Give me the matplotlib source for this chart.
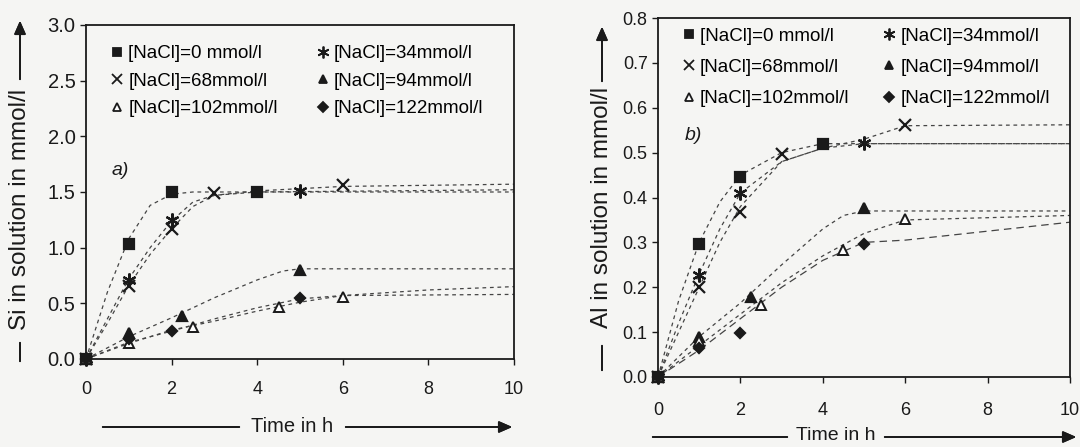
import matplotlib.pyplot as plt
from matplotlib.lines import Line2D

plt.rcParams['font.family'] = ['Liberation Sans', 'DejaVu Sans']

labels = ['[NaCl]=0 mmol/l', '[NaCl]=34mmol/l', '[NaCl]=68mmol/l',
          '[NaCl]=94mmol/l', '[NaCl]=102mmol/l', '[NaCl]=122mmol/l']
markers = ['s', (6, 2, 0), 'x', '^', '^', 'D']
filled = [True, True, True, True, False, True]
msizes = [6.5, 10, 8, 7.5, 7.5, 5.5]

# Si measurements (panel a)
si_t = [[0, 1, 2, 4],
        [0, 1, 2, 5],
        [0, 1, 2, 3, 6],
        [0, 1, 2.25, 5],
        [0, 1, 2.5, 4.5, 6],
        [0, 1, 2, 5]]
si_c = [[0, 1.03, 1.50, 1.50],
        [0, 0.71, 1.25, 1.51],
        [0, 0.66, 1.17, 1.49, 1.56],
        [0, 0.23, 0.39, 0.80],
        [0, 0.14, 0.29, 0.47, 0.56],
        [0, 0.18, 0.25, 0.55]]

# Si fitted curves
si_fit_t = [[0, 0.5, 1, 1.5, 2, 2.5, 3, 10],
            [0, 0.5, 1, 1.5, 2, 2.5, 3, 4, 10],
            [0, 0.5, 1, 1.5, 2, 2.5, 3, 4, 6, 10],
            [0, 1, 2, 3, 4, 4.6, 5, 10],
            [0, 1, 2, 3, 4, 5, 6, 8, 10],
            [0, 1, 2, 3, 4, 5, 6, 10]]
si_fit_c = [[0, 0.60, 1.08, 1.38, 1.48, 1.50, 1.50, 1.50],
            [0, 0.36, 0.72, 1.00, 1.24, 1.41, 1.47, 1.50, 1.52],
            [0, 0.32, 0.66, 0.94, 1.17, 1.37, 1.47, 1.51, 1.55, 1.57],
            [0, 0.20, 0.37, 0.55, 0.71, 0.79, 0.81, 0.81],
            [0, 0.14, 0.26, 0.34, 0.43, 0.51, 0.57, 0.62, 0.65],
            [0, 0.15, 0.25, 0.36, 0.46, 0.54, 0.57, 0.58]]

# Al measurements (panel b)
al_t = [[0, 1, 2, 4],
        [0, 1, 2, 5],
        [0, 1, 2, 3, 6],
        [0, 1, 2.25, 5],
        [0, 1, 2.5, 4.5, 6],
        [0, 1, 2, 5]]
al_c = [[0, 0.297, 0.446, 0.52],
        [0, 0.227, 0.41, 0.522],
        [0, 0.20, 0.368, 0.497, 0.562],
        [0, 0.09, 0.178, 0.377],
        [0, 0.08, 0.16, 0.283, 0.352],
        [0, 0.065, 0.097, 0.296]]

# Al fitted curves
al_fit_t = [[0, 0.5, 1, 1.5, 2, 3, 4, 10],
            [0, 0.5, 1, 1.5, 2, 3, 4, 5, 10],
            [0, 0.5, 1, 1.5, 2, 3, 4, 5, 6, 10],
            [0, 1, 2, 3, 4, 4.5, 5, 10],
            [0, 1, 2, 3, 4, 5, 6, 10],
            [0, 1, 2, 3, 4, 5, 6, 8, 10]]
al_fit_c = [[0, 0.17, 0.30, 0.39, 0.45, 0.50, 0.52, 0.52],
            [0, 0.12, 0.23, 0.33, 0.41, 0.48, 0.51, 0.52, 0.52],
            [0, 0.10, 0.20, 0.30, 0.38, 0.48, 0.51, 0.53, 0.56, 0.562],
            [0, 0.09, 0.165, 0.25, 0.33, 0.36, 0.37, 0.37],
            [0, 0.07, 0.14, 0.21, 0.27, 0.32, 0.35, 0.36],
            [0, 0.06, 0.13, 0.20, 0.26, 0.30, 0.305, 0.325, 0.345]]

bg = '#f5f5f3'
ink = '#1a1a1a'

fig = plt.figure(figsize=(10.8, 4.47), dpi=100, facecolor=bg)
ax1 = fig.add_axes([0.0796, 0.1969, 0.3963, 0.7472])
ax2 = fig.add_axes([0.6093, 0.1566, 0.3815, 0.8031])


def draw(ax, ts, cs, fts, fcs, ymax, ystep, tag, tagpos, tsize, xpad, leg, colsp, rowsp):
    ax.set_facecolor(bg)
    for i in range(len(labels)):
        ls = (0, (6, 4)) if (ax is ax2 and i == 5) else (0, (3, 3))
        ax.plot(fts[i], fcs[i], color='#444444', lw=0.9, linestyle=ls, zorder=2)
        ax.plot(ts[i], cs[i], linestyle='none', marker=markers[i],
                ms=msizes[i], color=ink,
                mfc=ink if filled[i] else 'white', mew=1.4 if not filled[i] else 1.6,
                zorder=3, clip_on=False)
    ax.set_xlim(0, 10)
    ax.set_ylim(0, ymax)
    ax.set_xticks(range(0, 11, 2))
    ax.set_yticks([round(k * ystep, 2) for k in range(int(round(ymax / ystep)) + 1)])
    ax.yaxis.set_major_formatter(plt.FormatStrFormatter('%.1f'))
    ax.tick_params(direction='out', length=4, width=1, labelsize=tsize, colors=ink)
    ax.tick_params(axis='x', pad=xpad, labelsize=13)
    for s in ax.spines.values():
        s.set_linewidth(1.3)
        s.set_color(ink)
    ax.text(tagpos[0], tagpos[1], tag, transform=ax.transAxes, fontsize=14,
            style='italic', color=ink)
    handles = [Line2D([], [], linestyle='none', marker=markers[i], ms=msizes[i] * 0.85,
                      color=ink, mfc=ink if filled[i] else 'white', mew=1.3)
               for i in range(len(labels))]
    order = [0, 2, 4, 1, 3, 5]
    ax.legend([handles[k] for k in order], [labels[k] for k in order], ncol=2,
              frameon=False, loc='upper left', bbox_to_anchor=leg,
              fontsize=13.5, handlelength=0.6, handletextpad=0.3,
              columnspacing=colsp, labelspacing=rowsp)


draw(ax1, si_t, si_c, si_fit_t, si_fit_c, 3.0, 0.5, 'a)', (0.06, 0.55), 14.5, 12,
     (0.02, 0.99), 2.1, 0.55)
draw(ax2, al_t, al_c, al_fit_t, al_fit_c, 0.8, 0.1, 'b)', (0.065, 0.66), 13, 14,
     (0.02, 1.02), 1.8, 0.75)


# axis titles drawn with their arrow lines, in pixel coordinates of the figure
def px(x, y):
    return (x / 1080, 1 - y / 447)


arrow = dict(arrowstyle='-|>,head_length=0.8,head_width=0.35', color=ink, lw=1.3)
line = dict(arrowstyle='-', color=ink, lw=1.3)

# left y title
fig.text(*px(20, 209), 'Si in solution in mmol/l', rotation=90, ha='center',
         va='center', fontsize=17.5, color=ink)
fig.add_artist(plt.annotate('', xy=px(20, 340), xytext=px(20, 364),
                            xycoords='figure fraction', arrowprops=line))
fig.add_artist(plt.annotate('', xy=px(20, 18), xytext=px(20, 82),
                            xycoords='figure fraction', arrowprops=arrow))
# right y title
fig.text(*px(602, 207), 'Al in solution in mmol/l', rotation=90, ha='center',
         va='center', fontsize=17.5, color=ink)
fig.add_artist(plt.annotate('', xy=px(602, 343), xytext=px(602, 373),
                            xycoords='figure fraction', arrowprops=line))
fig.add_artist(plt.annotate('', xy=px(602, 24), xytext=px(602, 84),
                            xycoords='figure fraction', arrowprops=arrow))
# left x title
fig.text(*px(292, 427), 'Time in h', ha='center', va='center', fontsize=14.5, color=ink)
fig.add_artist(plt.annotate('', xy=px(242, 427), xytext=px(100, 427),
                            xycoords='figure fraction', arrowprops=line))
fig.add_artist(plt.annotate('', xy=px(515, 427), xytext=px(343, 427),
                            xycoords='figure fraction', arrowprops=arrow))
# right x title
fig.text(*px(836, 436), 'Time in h', ha='center', va='center', fontsize=14, color=ink)
fig.add_artist(plt.annotate('', xy=px(790, 437), xytext=px(650, 437),
                            xycoords='figure fraction', arrowprops=line))
fig.add_artist(plt.annotate('', xy=px(1079, 437), xytext=px(882, 437),
                            xycoords='figure fraction', arrowprops=arrow))

fig.savefig('out.png', dpi=100, facecolor=bg)
